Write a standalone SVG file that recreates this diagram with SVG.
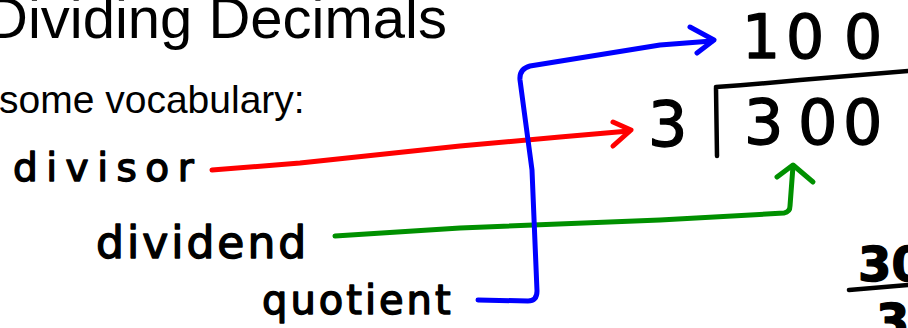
<svg xmlns="http://www.w3.org/2000/svg" width="908" height="328" viewBox="0 0 908 328">
<style>
.title{font-family:"Liberation Sans",Arial,sans-serif;fill:#000}
.hand{font-family:"DejaVu Sans","Noto Sans",sans-serif;fill:#000;stroke:#000;stroke-width:1.4;stroke-linejoin:round}
.ink{fill:none;stroke:#000;stroke-width:4.5;stroke-linecap:round;stroke-linejoin:round}
.conn{fill:none;stroke-width:5;stroke-linecap:round;stroke-linejoin:round}
.red{stroke:#ff0000}
.green{stroke:#009000}
.blue{stroke:#0000ff}
</style>
<rect width="908" height="328" fill="#fff"/>
<g id="title">
<text class="title" x="-14" y="38" font-size="58">Dividing Decimals</text>
</g>
<g id="subtitle">
<text class="title" x="-1" y="113" font-size="39">some vocabulary:</text>
</g>
<g id="divisor-label">
<text class="hand" x="13" y="181" font-size="39" letter-spacing="8.5">divisor</text>
</g>
<g id="dividend-label">
<text class="hand" x="96" y="258" font-size="44" letter-spacing="3">dividend</text>
</g>
<g id="quotient-label">
<text class="hand" x="262" y="314" font-size="40" letter-spacing="3">quotient</text>
</g>
<g id="quotient-value">
<text class="hand" font-size="60" y="58"><tspan x="742">1</tspan><tspan x="786">0</tspan><tspan x="844">0</tspan></text>
</g>
<g id="divisor-value">
<text class="hand" x="648" y="146" font-size="62">3</text>
</g>
<g id="dividend-value">
<path class="ink" d="M716,88 L717,156 M716,87 Q760,84 800,80 L908,71"/>
<text class="hand" font-size="62" y="144"><tspan x="744">3</tspan><tspan x="798">0</tspan><tspan x="843">0</tspan></text>
</g>
<g id="fraction">
<text class="hand" x="858" y="281" font-size="48" font-weight="bold" stroke-width="2">30</text>
<path class="ink" d="M849,290 L908,285"/>
<text class="hand" x="876" y="338" font-size="48" font-weight="bold" stroke-width="2">3</text>
</g>
<g id="connectors">
<path class="conn red" d="M212,170 L300,163 L460,146 L560,137 L629,131"/>
<path class="conn red" d="M613,122 L631,130 L613,146"/>
<path class="conn green" d="M335,236 L460,228 L660,220 L784,213 Q790,212 790,206 L793,166"/>
<path class="conn green" d="M777,177 L793,165 L813,182"/>
<path class="conn blue" d="M478,300 L528,301 Q537,301 537,291 L532,170 L520,80 Q519,69 530,66 L660,45 L712,41"/>
<path class="conn blue" d="M690,27 L714,40 L697,53"/>
</g>
</svg>
